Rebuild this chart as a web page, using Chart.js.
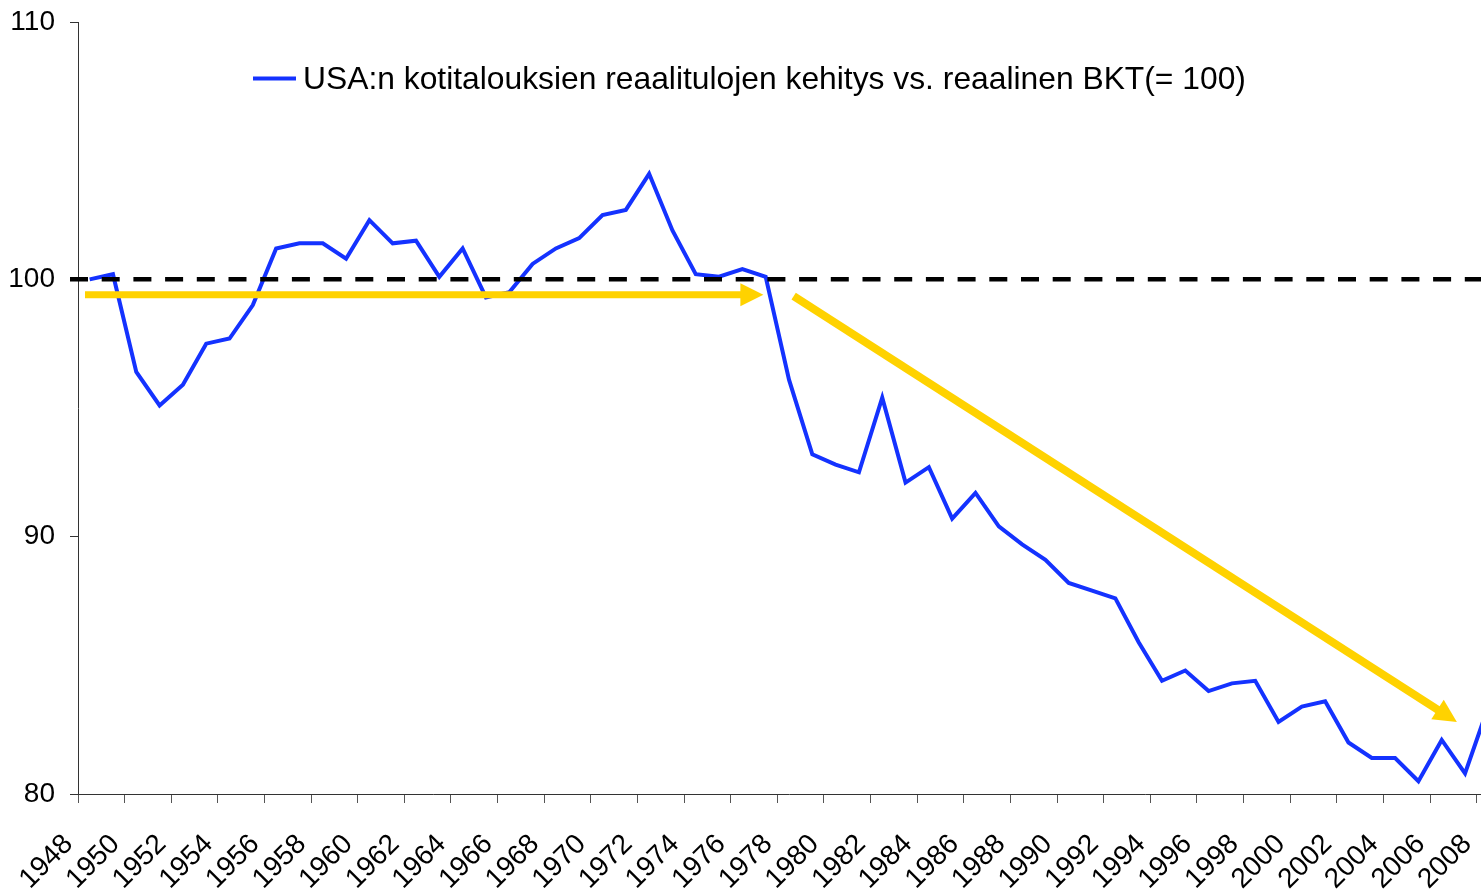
<!DOCTYPE html>
<html>
<head>
<meta charset="utf-8">
<script src="https://cdn.jsdelivr.net/npm/chart.js@4.4.1/dist/chart.umd.min.js"></script>
<style>
  html, body { margin: 0; padding: 0; background: #fff; overflow: hidden; }
  #wrap { width: 1500px; height: 893px; }
</style>
</head>
<body>
<div id="wrap"><canvas id="myChart" width="1500" height="893"></canvas></div>
<script>
const years = [
  '1948', '1949', '1950', '1951', '1952', '1953', '1954', '1955', '1956', '1957',
  '1958', '1959', '1960', '1961', '1962', '1963', '1964', '1965', '1966', '1967',
  '1968', '1969', '1970', '1971', '1972', '1973', '1974', '1975', '1976', '1977',
  '1978', '1979', '1980', '1981', '1982', '1983', '1984', '1985', '1986', '1987',
  '1988', '1989', '1990', '1991', '1992', '1993', '1994', '1995', '1996', '1997',
  '1998', '1999', '2000', '2001', '2002', '2003', '2004', '2005', '2006', '2007',
  '2008'
]

const income = [
  100.0, 100.2, 96.4, 95.1, 95.9, 97.5, 97.7, 99.0, 101.2, 101.4,
  101.4, 100.8, 102.3, 101.4, 101.5, 100.1, 101.2, 99.3, 99.5, 100.6,
  101.2, 101.6, 102.5, 102.7, 104.1, 101.9, 100.2, 100.1, 100.4, 100.1,
  96.1, 93.2, 92.8, 92.5, 95.4, 92.1, 92.7, 90.7, 91.7, 90.4,
  89.7, 89.1, 88.2, 87.9, 87.6, 85.9, 84.4, 84.8, 84.0, 84.3,
  84.4, 82.8, 83.4, 83.6, 82.0, 81.4, 81.4, 80.5, 82.1, 80.8,
  83.4
]

const seriesLabel = 'USA:n kotitalouksien reaalitulojen kehitys vs. reaalinen BKT(= 100)'
const baseline = 100

// trend arrows, given as [category index, value]
const trendArrows = [
  { from: [-0.2, 99.4], to: [28.9, 99.4], width: 7 },
  { from: [30.2, 99.35], to: [58.65, 82.8], width: 8 }
]

const FONT = "'Liberation Sans', Arial, sans-serif"
const BLUE = '#1432ff'
const GOLD = '#ffd200'

const overlay = {
  id: 'overlay',
  afterDatasetsDraw(chart) {
    const { ctx, chartArea, scales } = chart
    const yb = scales.y.getPixelForValue(baseline)

    // dashed 100 line
    ctx.save()
    ctx.strokeStyle = '#000'
    ctx.lineWidth = 4.5
    ctx.setLineDash([18, 13.7])
    ctx.beginPath()
    ctx.moveTo(chartArea.left - 8, yb)
    ctx.lineTo(chartArea.right, yb)
    ctx.stroke()
    ctx.restore()

    // arrows
    trendArrows.forEach(a => {
      const x1 = scales.x.getPixelForValue(a.from[0])
      const y1 = scales.y.getPixelForValue(a.from[1])
      const x2 = scales.x.getPixelForValue(a.to[0])
      const y2 = scales.y.getPixelForValue(a.to[1])
      const ang = Math.atan2(y2 - y1, x2 - x1)
      const head = 23
      const half = 11.5
      const bx = x2 - head * Math.cos(ang)
      const by = y2 - head * Math.sin(ang)
      ctx.save()
      ctx.strokeStyle = GOLD
      ctx.fillStyle = GOLD
      ctx.lineWidth = a.width
      ctx.beginPath()
      ctx.moveTo(x1, y1)
      ctx.lineTo(bx + Math.cos(ang), by + Math.sin(ang))
      ctx.stroke()
      ctx.beginPath()
      ctx.moveTo(x2, y2)
      ctx.lineTo(bx - half * Math.sin(ang), by + half * Math.cos(ang))
      ctx.lineTo(bx + half * Math.sin(ang), by - half * Math.cos(ang))
      ctx.closePath()
      ctx.fill()
      ctx.restore()
    })
  },
  afterDraw(chart) {
    // legend sitting inside the plot
    const { ctx } = chart
    const ds = chart.data.datasets[0]
    ctx.save()
    ctx.strokeStyle = ds.borderColor
    ctx.lineWidth = 4
    ctx.beginPath()
    ctx.moveTo(253, 78.5)
    ctx.lineTo(296, 78.5)
    ctx.stroke()
    ctx.fillStyle = '#000'
    ctx.font = '31.8px ' + FONT
    ctx.textBaseline = 'middle'
    ctx.fillText(ds.label, 303, 80)
    ctx.restore()
  }
}

const chartInstance = new Chart(document.getElementById('myChart'), {
  type: 'line',
  data: {
    labels: years,
    datasets: [
      {
        label: seriesLabel,
        data: income,
        borderColor: BLUE,
        backgroundColor: BLUE,
        borderWidth: 4,
        pointRadius: 0,
        tension: 0,
        borderJoinStyle: 'miter'
      }
    ]
  },
  options: {
    responsive: false,
    animation: false,
    layout: { padding: { top: 22, right: 0, left: 0, bottom: 0 } },
    plugins: {
      legend: { display: false },
      tooltip: { enabled: false }
    },
    scales: {
      x: {
        type: 'category',
        offset: true,
        afterFit: scale => {
          scale.height = 99
          scale.paddingLeft = 0
          scale.paddingRight = 0
        },
        grid: {
          offset: true,
          drawOnChartArea: false,
          tickLength: 9,
          color: c => (c.index % 2 === 0 ? '#555' : 'rgba(0,0,0,0)')
        },
        border: { color: '#333', width: 1 },
        ticks: {
          autoSkip: false,
          maxRotation: 45,
          minRotation: 45,
          padding: 25,
          labelOffset: -21,
          color: '#000',
          font: { family: FONT, size: 28 },
          callback: (v, i) => (i % 2 === 0 ? years[i] : '')
        }
      },
      y: {
        min: 80,
        max: 110,
        afterFit: scale => {
          scale.width = 78
          scale.paddingTop = 0
          scale.paddingBottom = 0
        },
        grid: { drawOnChartArea: false, tickLength: 8, color: '#333' },
        border: { color: '#333', width: 1 },
        ticks: {
          stepSize: 10,
          padding: 15,
          color: '#000',
          font: { family: FONT, size: 28 }
        }
      }
    }
  },
  plugins: [overlay]
})
</script>
</body>
</html>
